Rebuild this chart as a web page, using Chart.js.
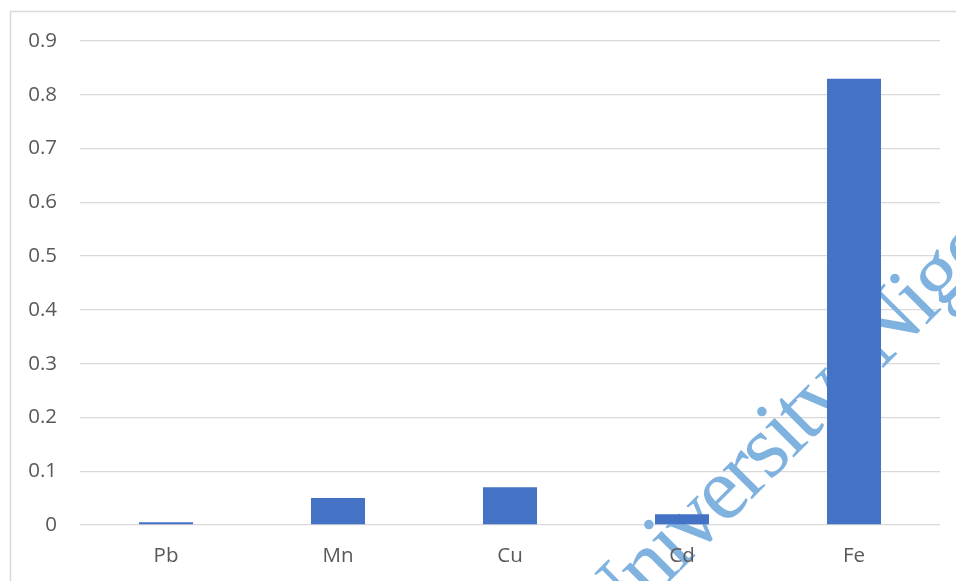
<!DOCTYPE html>
<html>
<head>
<meta charset="utf-8">
<script src="https://cdn.jsdelivr.net/npm/chart.js@4/dist/chart.umd.min.js"></script>
<style>
  html, body { margin: 0; padding: 0; background: #ffffff; }
  #wrap { position: relative; width: 956px; height: 581px; }
</style>
</head>
<body>
<div id="wrap"><canvas id="chart" width="956" height="581"></canvas></div>
<script>
// Heavy metal concentrations by element
const elements = ['Pb', 'Mn', 'Cu', 'Cd', 'Fe'];
const concentrations = [0.005, 0.05, 0.07, 0.02, 0.83];
const yTickLabels = ['0', '0.1', '0.2', '0.3', '0.4', '0.5', '0.6', '0.7', '0.8', '0.9'];
const watermarkWords = ['University', 'Nigeria'];

const labelFont = { family: '"Open Sans", "Liberation Sans", sans-serif', size: 20.5 };
const labelColor = '#595959';

// White background plus the light frame around the chart
const framePlugin = {
  id: 'frame',
  beforeDraw(chart) {
    const ctx = chart.ctx;
    ctx.save();
    ctx.fillStyle = '#ffffff';
    ctx.fillRect(0, 0, chart.width, chart.height);
    ctx.strokeStyle = '#d9d9d9';
    ctx.lineWidth = 1.5;
    ctx.beginPath();
    ctx.moveTo(chart.width + 5, 11.5);
    ctx.lineTo(10.5, 11.5);
    ctx.lineTo(10.5, chart.height + 5);
    ctx.stroke();
    ctx.restore();
  }
};

// Diagonal watermark text, drawn above the grid and beneath the bars
const watermarkPlugin = {
  id: 'watermark',
  beforeDatasetsDraw(chart) {
    const ctx = chart.ctx;
    ctx.save();
    ctx.translate(605.6, 645.4);
    ctx.rotate(-Math.PI / 4);
    ctx.font = '90px "Liberation Serif", "Times New Roman", serif';
    if ('letterSpacing' in ctx) ctx.letterSpacing = '-3px';
    ctx.fillStyle = '#80b2e0';
    ctx.textBaseline = 'alphabetic';
    ctx.fillText(watermarkWords[0], 0, 0);
    ctx.fillText(watermarkWords[1], 390, 0);
    ctx.restore();
  }
};

new Chart(document.getElementById('chart'), {
  type: 'bar',
  data: {
    labels: elements,
    datasets: [{
      data: concentrations,
      backgroundColor: '#4472c4',
      borderWidth: 0,
      categoryPercentage: 1,
      barPercentage: 0.314
    }]
  },
  options: {
    responsive: false,
    animation: false,
    devicePixelRatio: 1,
    layout: { padding: { top: 41, right: 16, bottom: 0, left: 0 } },
    plugins: {
      legend: { display: false },
      tooltip: { enabled: false }
    },
    scales: {
      x: {
        grid: { display: false, drawTicks: false },
        border: { display: false },
        ticks: { font: labelFont, color: labelColor, padding: 19, z: 1 },
        afterFit(scale) { scale.height = 56; }
      },
      y: {
        min: 0,
        max: 0.9,
        grid: { color: '#d9d9d9', lineWidth: 1.3, drawTicks: false },
        border: { display: false },
        ticks: {
          stepSize: 0.1,
          font: labelFont,
          color: labelColor,
          padding: 23,
          callback: (value, index) => yTickLabels[index]
        },
        afterFit(scale) { scale.width = 80; }
      }
    }
  },
  plugins: [framePlugin, watermarkPlugin]
});
</script>
</body>
</html>
